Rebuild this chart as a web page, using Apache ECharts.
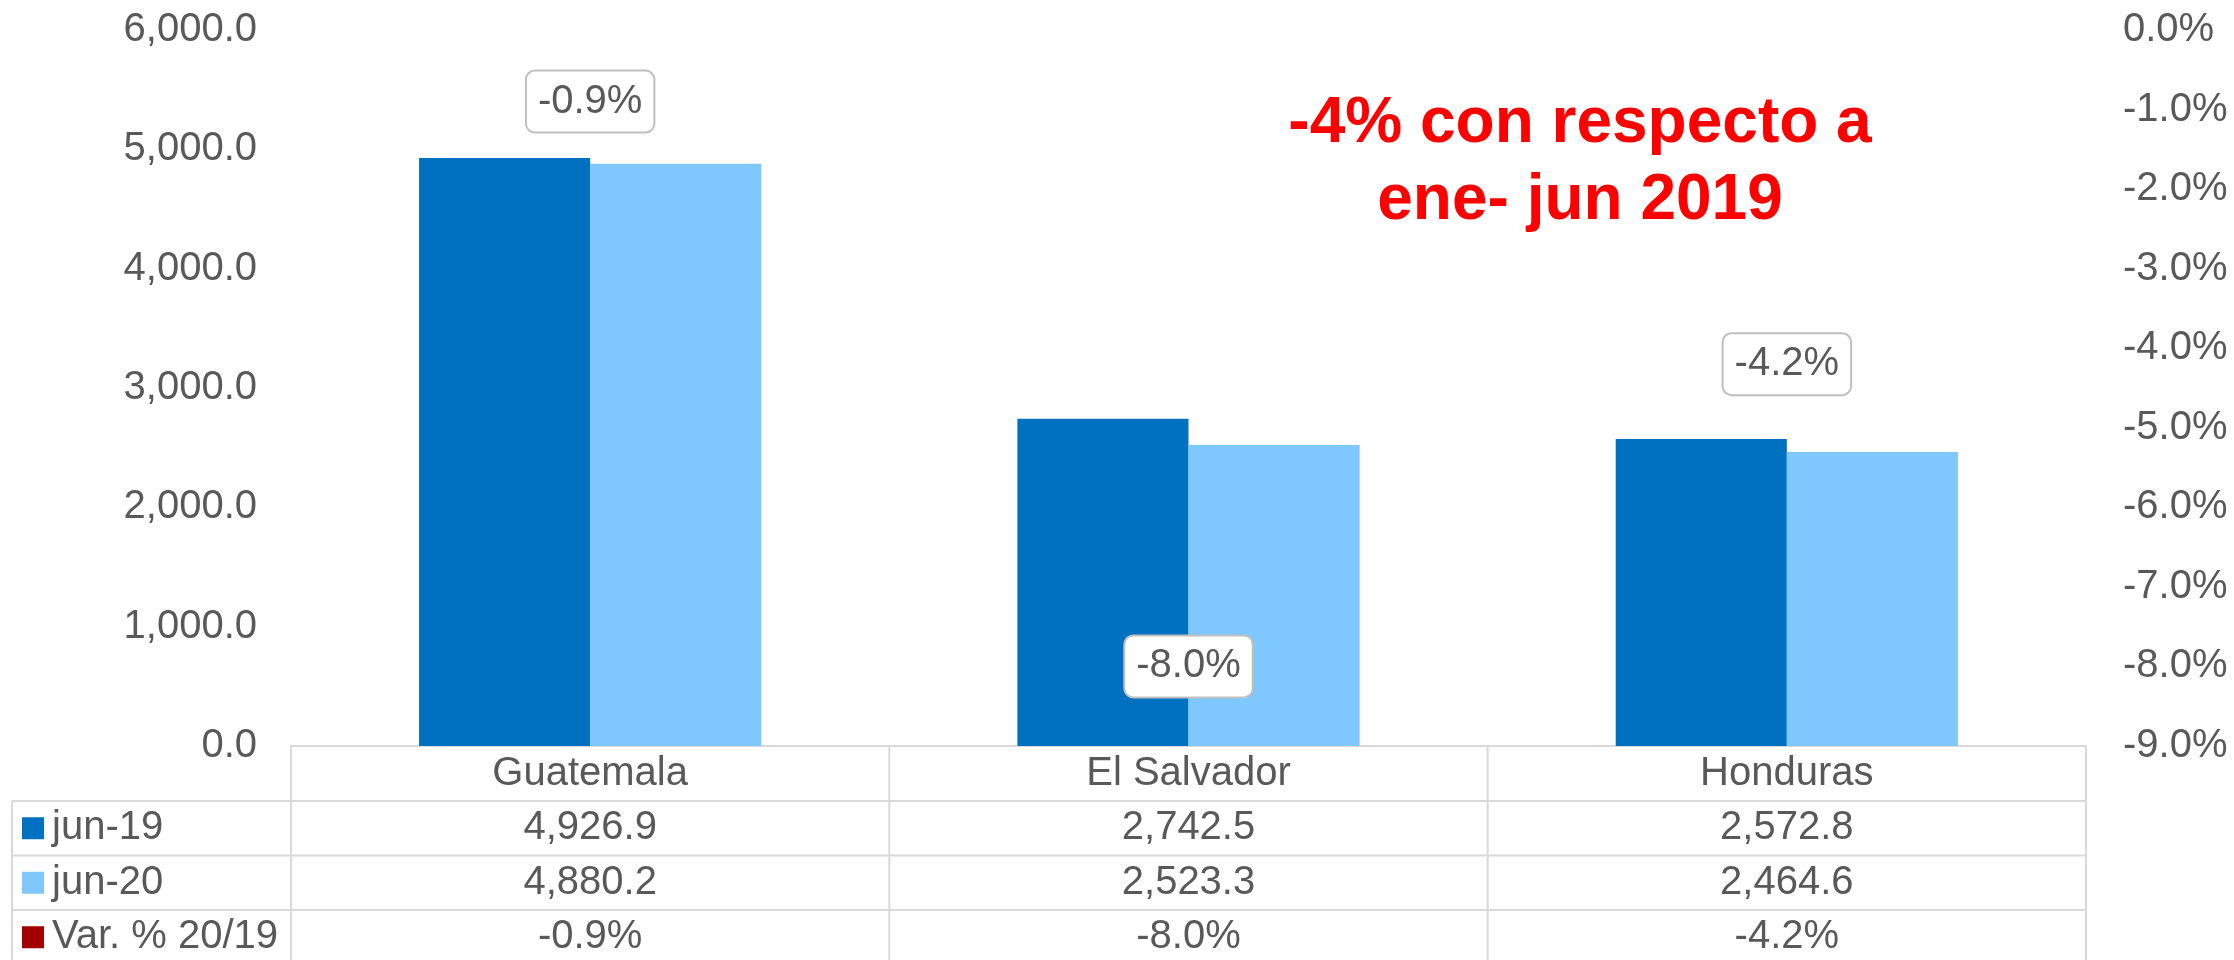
<!DOCTYPE html>
<html><head><meta charset="utf-8">
<script src="https://cdn.jsdelivr.net/npm/echarts@6/dist/echarts.min.js"></script>
<style>html,body{margin:0;padding:0;background:#fff}#c{width:2234px;height:960px}</style>
</head><body><div id="c"></div>
<script>
const categories = ['Guatemala', 'El Salvador', 'Honduras'];
const jun19 = [4926.9, 2742.5, 2572.8];
const jun20 = [4880.2, 2523.3, 2464.6];
const varPct = [-0.9, -8.0, -4.2];
const seriesNames = ['jun-19', 'jun-20', 'Var. % 20/19'];
const seriesColors = ['#0070C0', '#7FC8FF', '#A50000'];
const leftAxis = { min: 0, max: 6000, interval: 1000 };
const rightAxis = { min: -9, max: 0, interval: 1 };
const titleLines = ['-4% con respecto a', 'ene- jun 2019'];

const FONT = "'Liberation Sans', Arial, sans-serif";
const TXT = '#595959';
const LINE = '#d9d9d9';
const fmt1 = v => v.toLocaleString('en-US', { minimumFractionDigits: 1, maximumFractionDigits: 1 });
const fmtPct = v => v.toFixed(1) + '%';

const chart = echarts.init(document.getElementById('c'), null, { renderer: 'canvas', width: 2234, height: 960 });

chart.setOption({
  animation: false,
  backgroundColor: '#fff',
  textStyle: { fontFamily: FONT },
  grid: { left: 291, right: 148, top: 30, bottom: 214, containLabel: false },
  xAxis: {
    type: 'category', data: categories,
    axisLine: { show: true, lineStyle: { color: LINE, width: 2 } },
    axisTick: { show: false },
    axisLabel: { fontSize: 40, color: TXT, fontFamily: FONT, margin: 8 },
    splitLine: { show: false }
  },
  yAxis: [
    {
      type: 'value', min: leftAxis.min, max: leftAxis.max, interval: leftAxis.interval,
      axisLine: { show: false }, axisTick: { show: false }, splitLine: { show: false },
      axisLabel: { fontSize: 40, color: TXT, fontFamily: FONT, margin: 34, formatter: v => fmt1(v) }
    },
    {
      type: 'value', min: rightAxis.min, max: rightAxis.max, interval: rightAxis.interval,
      axisLine: { show: false }, axisTick: { show: false }, splitLine: { show: false },
      axisLabel: { fontSize: 40, color: TXT, fontFamily: FONT, margin: 37, formatter: v => fmtPct(v) }
    }
  ],
  series: [
    { name: seriesNames[0], type: 'bar', data: jun19, itemStyle: { color: seriesColors[0] }, barGap: '0%', barCategoryGap: '42.8%' },
    { name: seriesNames[1], type: 'bar', data: jun20, itemStyle: { color: seriesColors[1] }, barGap: '0%', barCategoryGap: '42.8%' },
    {
      name: seriesNames[2], type: 'scatter', yAxisIndex: 1, data: varPct, symbolSize: 1,
      itemStyle: { color: 'rgba(0,0,0,0)', opacity: 1 }, z: 10,
      emphasis: { disabled: true },
      label: {
        show: true, position: 'inside', formatter: p => fmtPct(p.value),
        fontSize: 40, color: TXT, fontFamily: FONT, lineHeight: 40,
        backgroundColor: '#fff', borderColor: '#bfbfbf', borderWidth: 2, borderRadius: 8,
        padding: [10, 11, 10, 11]
      }
    }
  ]
});

// Table below the axis, positioned through the chart's own scales
const centers = categories.map((c, i) => chart.convertToPixel({ xAxisIndex: 0 }, i));
const half = (centers[1] - centers[0]) / 2;
const axisY = chart.convertToPixel({ yAxisIndex: 0 }, 0);
const rowH = 54.5;
const tableLeft = 12;
const gridLeft = centers[0] - half;
const gridRight = centers[centers.length - 1] + half;
const rowTop = [axisY + 55, axisY + 55 + rowH, axisY + 55 + 2 * rowH];
const tableBottom = rowTop[2] + rowH;
const rows = [jun19.map(fmt1), jun20.map(fmt1), varPct.map(fmtPct)];

const g = [];
const ls = { stroke: LINE, lineWidth: 2 };
rowTop.forEach(y => g.push({ type: 'line', shape: { x1: tableLeft, y1: y, x2: gridRight, y2: y }, style: ls, silent: true }));
g.push({ type: 'line', shape: { x1: tableLeft, y1: tableBottom, x2: gridRight, y2: tableBottom }, style: ls, silent: true });
g.push({ type: 'line', shape: { x1: tableLeft, y1: rowTop[0], x2: tableLeft, y2: tableBottom }, style: ls, silent: true });
const vx = [gridLeft].concat(centers.map(c => c + half));
vx.forEach(x => g.push({ type: 'line', shape: { x1: x, y1: axisY, x2: x, y2: tableBottom }, style: ls, silent: true }));

rows.forEach((vals, r) => {
  const cy = rowTop[r] + rowH / 2;
  g.push({ type: 'rect', shape: { x: 22, y: cy - 11, width: 22, height: 22 }, style: { fill: seriesColors[r] }, silent: true });
  g.push({ type: 'text', x: 52, y: cy, style: { text: seriesNames[r], font: '40px ' + FONT, fill: TXT, textAlign: 'left', textVerticalAlign: 'middle' }, silent: true });
  vals.forEach((t, i) => {
    g.push({ type: 'text', x: centers[i], y: cy, style: { text: t, font: '40px ' + FONT, fill: TXT, textAlign: 'center', textVerticalAlign: 'middle' }, silent: true });
  });
});

g.push({
  type: 'text', x: 1580, y: 163,
  style: { text: titleLines.join('\n'), font: 'bold 64px ' + FONT, fill: '#FF0000', textAlign: 'center', textVerticalAlign: 'middle', lineHeight: 77 },
  silent: true
});

chart.setOption({ graphic: g });
</script>
</body></html>
